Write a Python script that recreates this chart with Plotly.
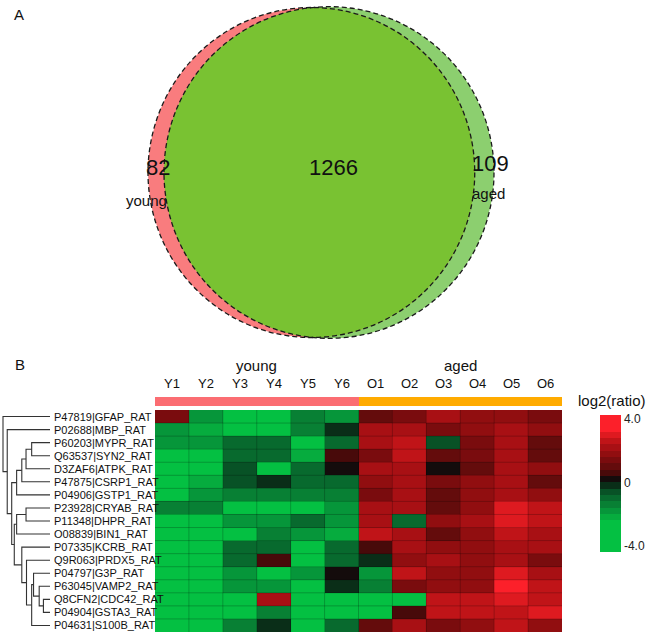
import numpy as np
import plotly.graph_objects as go

W, H = 650, 634
FONT = "Liberation Sans, Arial, sans-serif"

# ---------------- data ----------------
venn_names = ["young", "aged"]
venn_only = [82, 109]
venn_shared = 1266

samples = ["Y1", "Y2", "Y3", "Y4", "Y5", "Y6", "O1", "O2", "O3", "O4", "O5", "O6"]
groups = ["young"] * 6 + ["aged"] * 6
group_names = ["young", "aged"]

proteins = [
    "P47819|GFAP_RAT", "P02688|MBP_RAT", "P60203|MYPR_RAT", "Q63537|SYN2_RAT",
    "D3ZAF6|ATPK_RAT", "P47875|CSRP1_RAT", "P04906|GSTP1_RAT", "P23928|CRYAB_RAT",
    "P11348|DHPR_RAT", "O08839|BIN1_RAT", "P07335|KCRB_RAT", "Q9R063|PRDX5_RAT",
    "P04797|G3P_RAT", "P63045|VAMP2_RAT", "Q8CFN2|CDC42_RAT", "P04904|GSTA3_RAT",
    "P04631|S100B_RAT",
]

log2_ratio = [
    [1.3, -1.8, -2.8, -2.8, -1.3, -1.7, 1.0, 1.5, 2.2, 1.8, 1.8, 1.4],
    [-1.7, -2.3, -2.5, -2.8, -1.6, -0.2, 2.2, 2.2, 1.3, 1.8, 2.2, 1.9],
    [-1.7, -1.8, -1.2, -1.0, -2.6, -0.9, 2.2, 2.6, -0.6, 1.5, 2.4, 0.9],
    [-2.8, -2.8, -1.0, -1.0, -2.4, 0.5, 1.5, 2.5, 1.1, 1.5, 2.4, 1.2],
    [-2.8, -2.8, -0.7, -2.8, -1.2, 0.3, 2.0, 2.4, 0.4, 1.0, 2.4, 1.9],
    [-2.8, -2.4, -0.6, -0.3, -1.1, -1.1, 1.6, 2.2, 1.3, 1.7, 2.0, 1.0],
    [-2.6, -2.0, -1.4, -1.4, -1.3, -1.4, 1.5, 2.4, 1.2, 1.8, 2.3, 1.8],
    [-1.6, -1.6, -2.6, -2.6, -2.6, -1.7, 2.3, 2.3, 1.0, 1.7, 2.8, 2.5],
    [-3.5, -3.5, -2.0, -2.0, -1.1, -1.8, 2.1, -1.0, 1.9, 2.0, 2.9, 2.5],
    [-3.5, -3.5, -2.6, -1.4, -1.8, -2.3, 2.5, 2.4, 1.2, 1.8, 2.6, 2.0],
    [-3.5, -3.0, -1.2, -1.0, -2.6, -1.2, 0.7, 2.0, 1.6, 1.8, 2.4, 2.0],
    [-3.5, -3.0, -1.0, 0.5, -3.0, -1.1, -0.2, 1.8, 2.0, 1.8, 2.4, 1.5],
    [-3.5, -3.5, -1.7, -2.6, -2.0, 0.4, -1.8, 2.6, 1.9, 1.7, 3.0, 2.4],
    [-3.5, -3.5, -1.7, -2.0, -3.5, -0.4, -1.6, 1.4, 1.8, 1.8, 3.2, 2.6],
    [-3.5, -3.5, -3.5, 2.3, -3.5, -3.0, -3.5, -3.0, 2.6, 2.7, 2.8, 2.7],
    [-3.5, -3.5, -3.5, -1.3, -3.5, -2.6, -3.0, 0.6, 2.6, 2.7, 2.6, 3.0],
    [-3.5, -3.5, -1.3, -0.2, -3.5, -1.2, 0.9, 2.2, 1.5, 1.7, 2.7, 1.9],
]

# dendrogram merges: (node, child_a, child_b, distance); ints are leaf rows
dendro_merges = [
    ("A", 14, 15, 0.14),
    ("B", 13, "A", 0.23),
    ("C", 12, "B", 0.35),
    ("D", "C", 16, 0.39),
    ("E", 11, "D", 0.50),
    ("F", 10, "E", 0.60),
    ("G", 7, 8, 0.51),
    ("H", "G", 9, 0.71),
    ("I", "H", "F", 0.76),
    ("J", 2, 3, 0.39),
    ("K", "J", 4, 0.51),
    ("L", "K", 5, 0.60),
    ("M", "L", 6, 0.71),
    ("N", "M", "I", 0.815),
    ("O", 1, "N", 0.91),
    ("R", 0, "O", 1.0),
]

ZMIN, ZMAX = -4.4, 4.25
tick_vals = [4, 0, -4]
tick_text = ["4.0", "0", "-4.0"]

# ---------------- helpers ----------------
def px(x):
    return x / W

def py(y):
    return 1 - y / H

# stepped colour scale
edges = [ZMIN, -2.4, -2.0, -1.6, -1.2, -0.8, -0.4, 0, 0.4, 0.8, 1.2, 1.6, 2.0, 2.4, 2.8, 3.2, ZMAX]
band_colors = [
    "rgb(4,192,66)", "rgb(6,172,62)", "rgb(6,150,58)", "rgb(8,128,52)",
    "rgb(8,106,46)", "rgb(8,82,38)", "rgb(10,46,24)",
    "rgb(20,12,12)", "rgb(72,10,10)", "rgb(100,12,12)", "rgb(122,12,14)",
    "rgb(145,14,16)", "rgb(168,16,20)", "rgb(192,20,24)", "rgb(222,26,32)",
    "rgb(252,32,42)",
]
cscale = []
for i, c in enumerate(band_colors):
    lo = (edges[i] - ZMIN) / (ZMAX - ZMIN)
    hi = (edges[i + 1] - ZMIN) / (ZMAX - ZMIN)
    cscale.append([lo, c])
    cscale.append([hi, c])

fig = go.Figure()

# ---------------- heatmap ----------------
n_rows, n_cols = len(proteins), len(samples)
fig.add_trace(go.Heatmap(
    z=log2_ratio, x=list(range(n_cols)), y=list(range(n_rows)),
    xaxis="x", yaxis="y",
    colorscale=cscale, zmin=ZMIN, zmax=ZMAX,
    hoverinfo="skip",
    colorbar=dict(
        x=px(600), xanchor="left", xpad=0,
        y=py(483.5), yanchor="middle", ypad=0,
        len=137, lenmode="pixels", thickness=21, thicknessmode="pixels",
        outlinewidth=0, tickvals=tick_vals, ticktext=tick_text, ticks="",
        tickfont=dict(family=FONT, size=12, color="#222"),
    ),
))

# group bar
gcode = [group_names.index(g) for g in groups]
fig.add_trace(go.Heatmap(
    z=[gcode], x=list(range(n_cols)), y=[0], xaxis="x", yaxis="y2",
    colorscale=[[0, "#FB6D72"], [0.5, "#FB6D72"], [0.5, "#FFAB00"], [1, "#FFAB00"]],
    zmin=0, zmax=1, showscale=False, hoverinfo="skip",
))

# dendrogram
pos = {}
dist = {}
for i in range(n_rows):
    pos[i] = float(i)
    dist[i] = 0.0
dx, dy = [], []
for node, a, b, d in dendro_merges:
    ya, yb = pos[a], pos[b]
    dx += [dist[a], d, d, dist[b], None]
    dy += [ya, ya, yb, yb, None]
    pos[node] = (ya + yb) / 2
    dist[node] = d
fig.add_trace(go.Scatter(x=dx, y=dy, xaxis="x2", yaxis="y", mode="lines",
                         line=dict(color="#333", width=1.1), hoverinfo="skip",
                         showlegend=False))

shapes = []
# cell separators
for k in range(1, n_cols):
    shapes.append(dict(type="line", xref="x", yref="y", x0=k - 0.5, x1=k - 0.5,
                       y0=-0.5, y1=n_rows - 0.5, line=dict(color="rgba(0,0,0,0.22)", width=1)))
for k in range(1, n_rows):
    shapes.append(dict(type="line", xref="x", yref="y", x0=-0.5, x1=n_cols - 0.5,
                       y0=k - 0.5, y1=k - 0.5, line=dict(color="rgba(0,0,0,0.22)", width=1)))

# ---------------- venn ----------------
tot_l = venn_only[0] + venn_shared
tot_r = venn_only[1] + venn_shared
R_r = 165.0
R_l = R_r * np.sqrt(tot_l / tot_r)
cy = 172.5
cx_l = 148 + R_l
cx_r = 494 - R_r
ell = [(cx_l, cy, R_l, R_l * 1.01), (cx_r, cy, R_r, R_r * 1.005)]

def inside(x, y, e):
    cx, cy_, rx, ry = e
    return ((x - cx) / rx) ** 2 + ((y - cy_) / ry) ** 2 <= 1.0

t = np.linspace(0, 2 * np.pi, 720, endpoint=False)
pts = []
for e, o in [(ell[0], ell[1]), (ell[1], ell[0])]:
    xs = e[0] + e[2] * np.cos(t)
    ys = e[1] + e[3] * np.sin(t)
    for x, y in zip(xs, ys):
        if inside(x, y, o):
            pts.append((x, y))
pts = np.array(pts)
c0 = pts.mean(axis=0)
order = np.argsort(np.arctan2(pts[:, 1] - c0[1], pts[:, 0] - c0[0]))
pts = pts[order]
lens_path = "M " + " L ".join(f"{x:.2f},{y:.2f}" for x, y in pts) + " Z"

def ell_shape(e, fill, line):
    cx, cy_, rx, ry = e
    return dict(type="circle", xref="x3", yref="y3", x0=cx - rx, x1=cx + rx,
                y0=cy_ - ry, y1=cy_ + ry, fillcolor=fill, line=line)

noline = dict(width=0)
dash = dict(color="#1a1a1a", width=1.3, dash="5px,3px")
shapes.append(ell_shape(ell[1], "#8CCF6F", noline))
shapes.append(ell_shape(ell[0], "#F97C7E", noline))
shapes.append(dict(type="path", xref="x3", yref="y3", path=lens_path,
                   fillcolor="#79C232", line=noline))
shapes.append(ell_shape(ell[0], "rgba(0,0,0,0)", dash))
shapes.append(ell_shape(ell[1], "rgba(0,0,0,0)", dash))

annotations = []
def ann(text, x, y, size, xref="paper", yref="paper", xanchor="center", yanchor="middle"):
    annotations.append(dict(text=text, x=x, y=y, xref=xref, yref=yref, showarrow=False,
                            xanchor=xanchor, yanchor=yanchor,
                            font=dict(family=FONT, size=size, color="#111")))

# venn labels
ann(str(venn_only[0]), 158, 167, 22, "x3", "y3")
ann(str(venn_shared), 333, 167, 22, "x3", "y3")
ann(str(venn_only[1]), 490, 163, 22, "x3", "y3")
ann(venn_names[0], 146, 200, 15, "x3", "y3")
ann(venn_names[1], 488, 193, 15, "x3", "y3")

ann("A", px(19), py(15), 15)
ann("B", px(20), py(364), 15)

# column / group labels
for i, s in enumerate(samples):
    ann(s, i, py(383), 13, "x", "paper")
for g in group_names:
    idx = [i for i, gg in enumerate(groups) if gg == g]
    ann(g, (idx[0] + idx[-1]) / 2, py(365), 15, "x", "paper")
ann("log2(ratio)", px(612), py(400), 15)

# row labels
for i, p in enumerate(proteins):
    ann(p, px(52), i, 11, "paper", "y", xanchor="left")

hid = dict(visible=False, showgrid=False, zeroline=False, fixedrange=True)
fig.update_layout(
    width=W, height=H, autosize=False,
    margin=dict(l=0, r=0, t=0, b=0),
    paper_bgcolor="white", plot_bgcolor="rgba(0,0,0,0)",
    showlegend=False,
    xaxis=dict(hid, domain=[px(155), px(562)], range=[-0.5, n_cols - 0.5], anchor="y"),
    yaxis=dict(hid, domain=[py(632), py(410)], range=[n_rows - 0.5, -0.5], anchor="x"),
    yaxis2=dict(hid, domain=[py(406), py(397)], range=[-0.5, 0.5], anchor="x"),
    xaxis2=dict(hid, domain=[0, px(52)], range=[50 / 47, -2 / 47], anchor="y"),
    xaxis3=dict(hid, domain=[0, 1], range=[0, W], anchor="y3"),
    yaxis3=dict(hid, domain=[py(345), 1], range=[345, 0], anchor="x3"),
    shapes=shapes,
    annotations=annotations,
)

fig.write_html("out.html", config={"displayModeBar": False, "staticPlot": True},
               post_script="document.body.style.margin='0px';document.body.style.overflow='hidden';")
